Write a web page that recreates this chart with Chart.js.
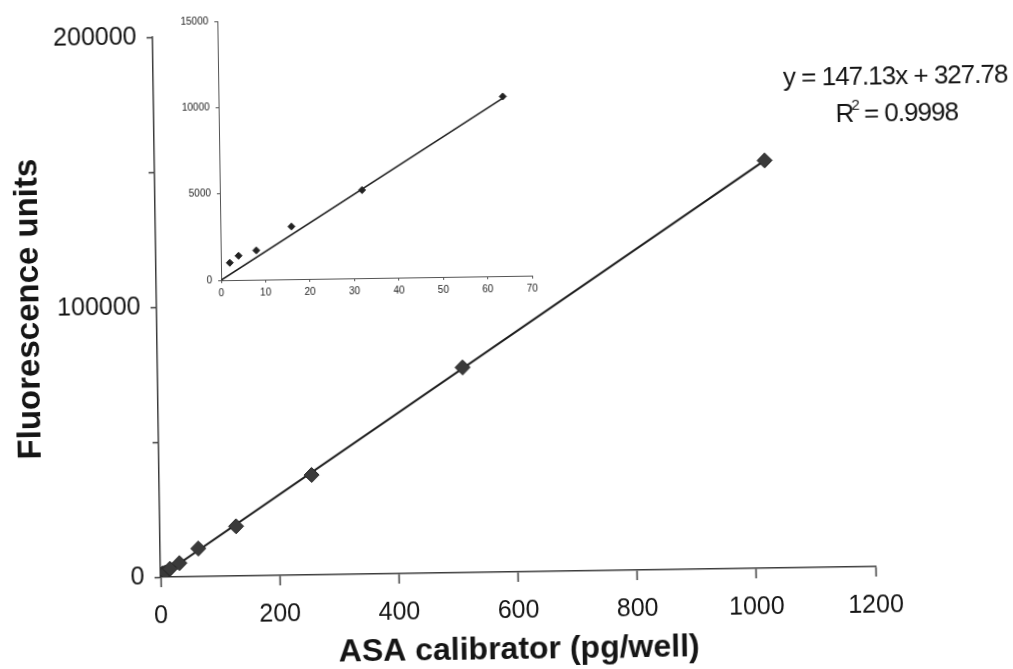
<!DOCTYPE html>
<html>
<head>
<meta charset="utf-8">
<script src="https://cdn.jsdelivr.net/npm/chart.js@4.4.1/dist/chart.umd.min.js"></script>
<style>
  html, body { margin: 0; padding: 0; background: #fff; overflow: hidden; }
  #page {
    position: relative; width: 1013px; height: 669px;
    transform: rotate(-0.85deg); transform-origin: 50% 50%;
  }
  #main { position: absolute; left: 0; top: 0; width: 1013px; height: 669px; }
  #inset { position: absolute; left: 170px; top: 0; width: 380px; height: 310px; }
</style>
</head>
<body>
<div id="page">
  <canvas id="main" width="1013" height="669"></canvas>
  <canvas id="inset" width="380" height="310"></canvas>
</div>
<script>
// Calibration standards (pg/well) and their fluorescence readings
const calibrator   = [2, 4, 8, 16, 32, 64, 128, 256, 512, 1024];
const fluorescence = [1000, 1400, 1700, 3050, 5100, 10400, 18400, 37000, 76000, 151000];

// Linear regression reported on the chart
const fitSlope = 147.13;
const fitIntercept = 327.78;
const fitR2 = 0.9998;
const fitRange = [0, 1024];

// Main axes
const mainXTicks = [0, 200, 400, 600, 800, 1000, 1200];
const mainYTicks = [0, 50000, 100000, 150000, 200000];
const mainYLabelled = [0, 100000, 200000];

// Low-range inset: first six standards and its line
const insetCount = 6;
const insetLineX = [0, 64];
const insetLineY = [0, 10300];
const insetXTicks = [0, 10, 20, 30, 40, 50, 60, 70];
const insetYTicks = [0, 5000, 10000, 15000];

const FONT = '"Liberation Sans", Arial, sans-serif';
const INK = '#151515';
const AXIS = '#3c3c3c';

const toPoints = (xs, ys) => xs.map((x, i) => ({ x, y: ys[i] }));
const plain = v => String(v);

const mainPoints = toPoints(calibrator, fluorescence);
const fitPoints = fitRange.map(x => ({ x, y: fitSlope * x + fitIntercept }));

const equationLabel = {
  id: 'equationLabel',
  afterDraw(chart) {
    const ctx = chart.ctx;
    ctx.save();
    ctx.fillStyle = INK;
    ctx.textBaseline = 'middle';
    ctx.letterSpacing = '-1px';
    const big = '26px ' + FONT, small = '15px ' + FONT;
    ctx.font = big;
    ctx.textAlign = 'center';
    ctx.fillText('y = ' + fitSlope + 'x + ' + fitIntercept, 899, 83);

    // R² line with a raised superscript
    const wR = ctx.measureText('R').width;
    const rest = ' = ' + fitR2;
    const wRest = ctx.measureText(rest).width;
    ctx.font = small;
    const w2 = ctx.measureText('2').width;
    const total = wR + w2 + wRest - 3;
    let x = 900 - total / 2;
    const y = 120;
    ctx.textAlign = 'left';
    ctx.font = big;
    ctx.fillText('R', x, y);
    x += wR;
    ctx.font = small;
    ctx.fillText('2', x - 2, y - 9);
    x += w2 - 3;
    ctx.font = big;
    ctx.fillText(rest, x, y);
    ctx.restore();
  }
};

new Chart(document.getElementById('main'), {
  type: 'scatter',
  data: {
    datasets: [
      {
        data: mainPoints,
        order: 0,
        pointStyle: 'rectRot',
        pointRadius: 7.5,
        backgroundColor: '#3a3a3a',
        borderColor: '#262626',
        borderWidth: 1
      },
      {
        data: fitPoints,
        order: 1,
        showLine: true,
        pointRadius: 0,
        borderColor: '#1c1c1c',
        borderWidth: 2
      }
    ]
  },
  options: {
    responsive: false,
    animation: false,
    devicePixelRatio: 1,
    layout: { padding: { left: 0, top: 32, right: 141, bottom: 0 } },
    plugins: { legend: { display: false }, tooltip: { enabled: false } },
    scales: {
      x: {
        type: 'linear', min: 0, max: 1200,
        afterBuildTicks: s => { s.ticks = mainXTicks.map(v => ({ value: v })); },
        afterFit: s => { s.height = 97; },
        ticks: { color: INK, font: { family: FONT, size: 25 }, padding: 14, maxRotation: 0, callback: plain },
        grid: { drawOnChartArea: false, drawTicks: true, tickLength: 10, tickColor: AXIS, tickWidth: 1.5 },
        border: { display: true, color: AXIS, width: 1.5 },
        title: {
          display: true, text: 'ASA calibrator (pg/well)', color: INK,
          font: { family: FONT, size: 32, weight: 'bold' }, padding: { top: 0, bottom: 0 }
        }
      },
      y: {
        type: 'linear', min: 0, max: 200000,
        afterBuildTicks: s => { s.ticks = mainYTicks.map(v => ({ value: v })); },
        afterFit: s => { s.width = 157; },
        ticks: {
          color: INK, font: { family: FONT, size: 25 }, padding: 10,
          callback: v => mainYLabelled.includes(v) ? String(v) : ''
        },
        grid: { drawOnChartArea: false, drawTicks: true, tickLength: 6, tickColor: AXIS, tickWidth: 1.5 },
        border: { display: true, color: AXIS, width: 1.5 },
        title: {
          display: true, text: 'Fluorescence units', color: INK,
          font: { family: FONT, size: 33, weight: 'bold' }, padding: { top: 10, bottom: 0 }
        }
      }
    }
  },
  plugins: [equationLabel]
});

new Chart(document.getElementById('inset'), {
  type: 'scatter',
  data: {
    datasets: [
      {
        data: mainPoints.slice(0, insetCount),
        order: 0,
        pointStyle: 'rectRot',
        pointRadius: 3.5,
        backgroundColor: '#222',
        borderColor: '#222',
        borderWidth: 1
      },
      {
        data: toPoints(insetLineX, insetLineY),
        order: 1,
        showLine: true,
        pointRadius: 0,
        borderColor: '#1c1c1c',
        borderWidth: 1.5
      }
    ]
  },
  options: {
    responsive: false,
    animation: false,
    devicePixelRatio: 1,
    layout: { padding: { left: 0, top: 17, right: 17, bottom: 0 } },
    plugins: { legend: { display: false }, tooltip: { enabled: false } },
    scales: {
      x: {
        type: 'linear', min: 0, max: 70,
        afterBuildTicks: s => { s.ticks = insetXTicks.map(v => ({ value: v })); },
        afterFit: s => { s.height = 34; },
        ticks: { color: '#222', font: { family: FONT, size: 10 }, padding: 4, maxRotation: 0, callback: plain },
        grid: { drawOnChartArea: false, drawTicks: true, tickLength: 3, tickColor: '#555', tickWidth: 1 },
        border: { display: true, color: '#555', width: 1 }
      },
      y: {
        type: 'linear', min: 0, max: 15000,
        afterBuildTicks: s => { s.ticks = insetYTicks.map(v => ({ value: v })); },
        afterFit: s => { s.width = 52; },
        ticks: { color: '#222', font: { family: FONT, size: 10 }, padding: 6, callback: plain },
        grid: { drawOnChartArea: false, drawTicks: true, tickLength: 3, tickColor: '#555', tickWidth: 1 },
        border: { display: true, color: '#555', width: 1 }
      }
    }
  }
});
</script>
</body>
</html>
